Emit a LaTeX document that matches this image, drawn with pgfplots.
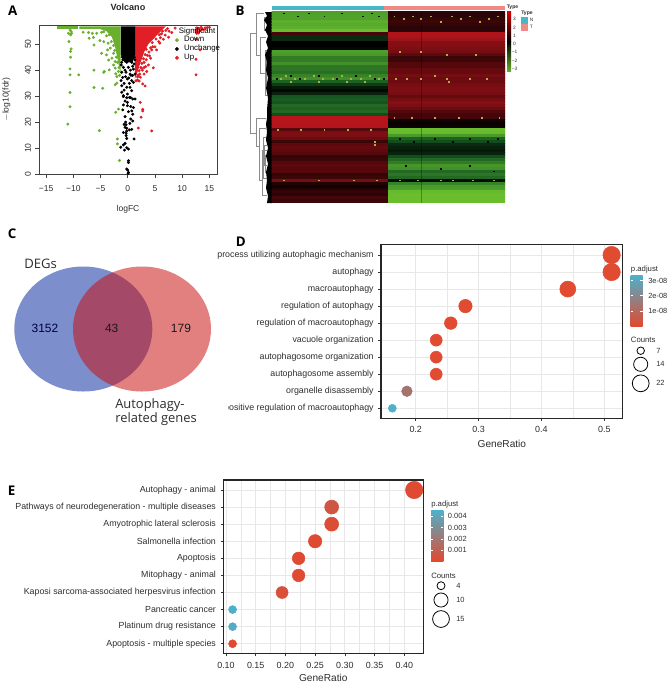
\documentclass[border=0pt]{standalone}
\usepackage{fontspec}
\setmainfont{Liberation Sans}
\newfontfamily\uifont{Open Sans}
\usepackage{pgfplots}
\pgfplotsset{compat=1.18}
\newcommand{\fs}[1]{\fontsize{#1}{#1}\selectfont}

\definecolor{vgreen}{RGB}{106,176,46}
\definecolor{vred}{RGB}{226,30,38}
\definecolor{txt}{RGB}{45,45,45}
\definecolor{grd}{RGB}{232,232,232}
\definecolor{dred}{RGB}{226,73,47}
\definecolor{dblue}{RGB}{76,177,204}

% shared look of the two dot plots
\pgfplotsset{
  dotplot/.style={
    scale only axis, anchor=north west,
    axis line style={line width=0.8pt, color=black!85},
    y dir=reverse, ytick={1,...,10},
    tick align=outside, major tick length=2pt, minor tick length=0pt,
    tick style={color=black!80, line width=0.4pt},
    xtick pos=bottom, ytick pos=left,
    grid=both, major grid style={grd, line width=0.7pt}, minor grid style={grd, line width=0.4pt},
    minor x tick num=1,
    tick label style={font=\fs{6.63}, color=txt},
    xticklabel style={font=\fs{6.7}, color=txt, yshift=-0.5pt},
    colormap={padj}{rgb255(0)=(226,73,47) rgb255(1)=(76,177,204)},
    /pgf/number format/assume math mode=true,
  },
  dots/.style={
    scatter, only marks, mark=*, point meta=explicit,
    scatter/use mapped color={draw=mapped color, fill=mapped color},
    visualization depends on={\thisrow{r}*0.75 \as \rad},
    scatter/@pre marker code/.append style={/tikz/mark size=\rad},
  },
}

\begin{document}
\begin{tikzpicture}[x=0.75pt, y=-0.75pt]
\useasboundingbox (0,0) rectangle (669,684);

% canvas axis in pixels of the figure: dendrogram, venn, legend keys
\begin{axis}[
    at={(0pt,0pt)}, anchor=north west, scale only axis, width=501.75pt, height=513pt,
    xmin=0, xmax=669, ymin=0, ymax=684, y dir=reverse, hide axis, clip=false,
    unbounded coords=jump,
]
  % venn
  \fill[color={rgb,255:red,74;green,98;blue,184}, opacity=0.72] (axis cs:83.3,329) ellipse [x radius=69, y radius=62.5];
  \fill[color={rgb,255:red,200;green,15;blue,15}, opacity=0.53] (axis cs:142,329) ellipse [x radius=69, y radius=62.5];

  % dendrogram of the heatmap
  \addplot[color=black!45, line width=0.35pt] coordinates {
    (256.7,33) (250.7,33) (250.7,133) (256,133) (nan,nan)
    (264,13) (256.7,13) (256.7,55) (260,55) (nan,nan)
    (266,37) (260,37) (260,73) (265,73) (nan,nan)
    (268,50) (265,50) (265,95) (268,95) (nan,nan)
    (268,30) (264,30) (264,17) (268,17) (nan,nan)
    (266,118) (256,118) (256,146) (259,146) (nan,nan)
    (266,128) (259,128) (259,180) (262,180) (nan,nan)
    (267,150) (262,150) (262,195) (267,195) (nan,nan)
    (267,137) (263,137) (263,178) (267,178) (nan,nan)
    (267,145) (264,145) (264,165) (267,165) (nan,nan)
    (268,60) (266,60) (266,85) (268,85) (nan,nan)
    (268,155) (265,155) (265,172) (268,172)
  };
  % leaves of the dendrogram, too dense to tell apart
  \addplot[fill=black, draw=none] coordinates {
    (272,12) (265,12) (267,16) (264,20) (267,25) (265,30) (268,36) (266,42) (268,48)
    (265,55) (267,62) (266,70) (268,78) (266,88) (268,98) (267,110) (267,118) (266,124)
    (267,132) (266,140) (268,148) (266,156) (268,164) (266,172) (267,180) (266,188)
    (268,196) (267,203) (272,203)
  } -- cycle;

  % counts keys of panels D and E
  \addplot[only marks, mark=o, mark size=2.8pt, black, line width=0.6pt] coordinates {(640.7,350.7)};
  \addplot[only marks, mark=o, mark size=5.3pt, black, line width=0.6pt] coordinates {(640.7,364.3)};
  \addplot[only marks, mark=o, mark size=6.3pt, black, line width=0.6pt] coordinates {(640.7,383.3)};
  \addplot[only marks, mark=o, mark size=3pt, black, line width=0.6pt] coordinates {(441,585.7)};
  \addplot[only marks, mark=o, mark size=5.3pt, black, line width=0.6pt] coordinates {(441,600)};
  \addplot[only marks, mark=o, mark size=6.3pt, black, line width=0.6pt] coordinates {(441,619)};

  % colour bars
  \shade[top color=dblue, bottom color=dred] (axis cs:630.7,275) rectangle (axis cs:642.7,326);
  \shade[top color=dblue, bottom color=dred] (axis cs:431,510) rectangle (axis cs:443.3,561);
  \fill[color={rgb,255:red,70;green,184;blue,200}] (axis cs:271.7,5.7) rectangle (axis cs:384,10);
  \fill[color={rgb,255:red,240;green,138;blue,132}] (axis cs:384,5.7) rectangle (axis cs:505,10);
  \fill[color={rgb,255:red,70;green,184;blue,200}] (axis cs:520.7,16.7) rectangle (axis cs:527.7,24);
  \fill[color={rgb,255:red,240;green,138;blue,132}] (axis cs:520.7,24) rectangle (axis cs:527.7,30.7);
  \shade[top color=red!85!black, bottom color=black] (axis cs:507,11.7) rectangle (axis cs:511,41.7);
  \shade[top color=black, bottom color=vgreen] (axis cs:507,41.7) rectangle (axis cs:511,71.7);

  % white ticks on the colour bars
  \foreach \yy in {280.7,295.7,311} {
    \edef\tmp{\noexpand\draw[white, line width=0.4pt] (axis cs:630.7,\yy) -- (axis cs:633,\yy) (axis cs:640.4,\yy) -- (axis cs:642.7,\yy);}\tmp
  }
  \foreach \yy in {516,527.7,539,550.3} {
    \edef\tmp{\noexpand\draw[white, line width=0.4pt] (axis cs:431,\yy) -- (axis cs:433.3,\yy) (axis cs:441,\yy) -- (axis cs:443.3,\yy);}\tmp
  }
\end{axis}

% A: volcano
\begin{axis}[
    at={(29.25pt,-18.75pt)}, anchor=north west, scale only axis, width=133.5pt, height=111.75pt,
    xmin=-16.3, xmax=16.4, ymin=0, ymax=57.4,
    xtick={-15,-10,...,15}, xticklabels={−15,−10,−5,0,5,10,15},
    ytick={0,10,...,50}, yticklabels={0,10,20,30,40,50},
    tick align=outside, major tick length=3pt,
    xtick pos=bottom, ytick pos=left,
    axis line style={color=black!75, line width=0.4pt},
    tick style={color=black!75, line width=0.4pt},
    tick label style={font=\fs{6.4}, color=txt},
    xticklabel style={yshift=-2pt},
    yticklabel style={rotate=90, anchor=south, yshift=-0.5pt},
    xlabel={logFC}, ylabel={$-$log10(fdr)},
    xlabel style={font=\fs{6.4}, color=txt, yshift=-3.5pt},
    ylabel style={font=\fs{6.4}, color=txt, yshift=4pt},
    title={\bfseries Volcano}, title style={font=\fs{6.8}, color=black!85, yshift=1pt},
    /pgf/number format/assume math mode=true,
    legend cell align=left,
    legend style={at={(axis cs:6.9,57.2)}, anchor=north west, draw=none, fill=none,
      font=\fs{5.9}, row sep=-1.4pt, inner sep=0pt, nodes={inner sep=1.2pt}},
]
  % solid parts of the cloud
  \addplot[fill=vgreen, draw=none, forget plot] coordinates {(-13,56.9) (-9.2,56.9) (-9.2,55.9) (-13,55.9)} -- cycle;
  \addplot[fill=vgreen, draw=none, forget plot] coordinates {
    (-8.9,56.9) (-1.3,56.9) (-1.3,38.5) (-1.7,42.4) (-2.3,48.8) (-2.9,52.7) (-3.9,55) (-5.2,55.9) (-8.9,55.9)
  } -- cycle;
  \addplot[fill=vred, draw=none, forget plot] coordinates {
    (1.3,56.9) (7,56.9) (6.55,56) (5.3,53.3) (3.8,50.1) (3,46.9) (2.27,42.4) (1.66,38.5) (1.3,36.6)
  } -- cycle;
  \addplot[fill=black, draw=none, forget plot] coordinates {
    (-1.25,56.9) (1.35,56.9) (1.35,46) (0.9,43) (-0.6,43) (-1.25,46)
  } -- cycle;

  % scattered points
  \addplot[only marks, mark=*, mark size=0.9pt, vgreen, forget plot] coordinates {
    (-10.6,55.5) (-10.4,54.9) (-10.9,54.2) (-10.3,54.2) (-10.5,53.6) (-10.8,51) (-10.4,48.2)
    (-10.5,47.2) (-10.5,45) (-10.6,40.5) (-10.6,38.2) (-9,38.2) (-6.2,40) (-4.3,39.5) (-4.4,39.2)
    (-3.4,40.1) (-2.2,38.6) (-6.2,33.3) (-4.6,33) (-10.6,31.4) (-10.6,25.9) (-11,19.2) (-5.2,16.7)
    (-1.7,25) (-2.2,23.8) (-1.9,13.5) (-1.9,11.6) (-1.5,5.2) (-2,35) (-2.3,34.4)
    (-8.2,54.6) (-7.2,54.5) (-6.5,54.2) (-5.7,54.2) (-4.8,54.6) (-6.3,52.6) (-7.1,52.3) (-5.1,51.4)
    (-6.2,49.7) (-3.9,53.2) (-4.4,51) (-3.6,50.4) (-3.2,48.5) (-3.7,47.8) (-4.8,46.5) (-3.9,45.9)
    (-2.6,46.5) (-2.9,44.6) (-2.3,43.3) (-3.5,43.9) (-2.3,40.8) (-2.6,42) (-1.7,39.5) (-2,37.5)
    (-4.4,54.8) (-3.4,53.6) (-3,51) (-2.6,49.5) (-2.4,47.6) (-2.1,45) (-1.9,43) (-1.6,41) (-1.5,38)
  };
  \addplot[only marks, mark=*, mark size=0.9pt, vred, forget plot] coordinates {
    (8.7,56.2) (7,55.3) (8.1,54.5) (7.5,52.7) (6.55,51.9) (5.9,50.4) (5.3,47.8) (4.4,47.8) (4.7,40.9)
    (3.8,42) (3.5,39.5) (3.2,33.9) (2.75,34.7) (2.3,37.3) (1.8,36.2) (1.5,35.9) (2.3,27.6) (2.75,24.9)
    (2.75,24.3) (2.45,21.9) (1.95,17.7) (4.4,16.6) (12.55,38.2) (12.55,44.2) (13.3,47.8) (12.55,51.9)
    (12.7,54.2) (12.5,55.5) (12.8,55) (13,56) (13.3,55.2) (13.6,56) (13.9,55.5) (14.2,56.3) (14.6,56.4)
    (15,56.5) (12.6,54.5) (13,54.3) (13.5,56.5) (12.7,56.3) (4,45.5) (3.9,47) (3.4,44) (3,43) (2.7,40)
    (3,38.5) (2.2,38.5) (2.5,40.8) (2.1,35.8) (1.9,38) (3.6,45.7) (4.6,49) (5,49) (5.7,51) (6,52.5)
    (6.9,53.5) (6.2,54) (7.3,56) (7.6,55) (6.4,55) (5.8,53.6) (5.2,52) (4.5,50.6) (4.2,48.6) (3.4,48)
    (3.2,46) (2.9,44.4) (2.6,42.6) (2.4,41) (2.1,39.8) (1.8,37.4) (3.3,41.4) (3,41) (4.2,44.6)
  };
  \addplot[only marks, mark=*, mark size=0.9pt, black, forget plot] coordinates {
    (-.8,29.8) (-.18,29.4) (.55,29.4) (-.49,28.1) (-.06,27.6) (1.35,28.9) (-.8,26.6) (-.06,26.3)
    (.55,26) (1.05,25.6) (-.92,24.7) (.13,24) (.74,24.3) (.92,23) (-.49,22.1) (.55,21.2) (.92,20.4)
    (-.67,19.1) (-.49,18) (-.18,17.6) (.74,17.2) (-.8,16) (-.3,15.7) (-.3,14.8) (-.18,13.7) (1.17,13.5)
    (-.49,11.8) (-.8,11.2) (-1.28,10.3) (-.18,10.1) (.13,9.6) (-.6,9.2) (.13,5.1) (.13,4.4) (-.18,1.9)
    (0,1.5) (.13,.6) (.07,.2) (-.4,20) (-.3,19) (.4,19.5) (.3,17) (-.2,16.5)
    (-.18,43) (.73,43) (1.16,42.4) (-.8,41.1) (.12,41.1) (1.04,40.4) (-1.1,39.2) (-.31,39.2) (.43,38.5)
    (1.35,38.5) (-.92,37.2) (-.06,36.6) (.73,36) (-1.23,36) (-.67,34.9) (.31,34.9) (1.04,35.3) (-1.1,34)
    (-.18,33.4) (.43,33.4) (-.67,32.3) (.73,32.1) (-1.1,31.5) (-.06,30.8) (.31,29.5) (-.8,30.2) (.92,28.9)
    (-1,45) (-.9,44) (1.2,45) (1.3,44) (-1.1,43) (-1.2,42) (.9,41.5) (.5,40) (-.5,40) (.9,38) (-.4,37.5)
    (.2,37) (.6,38)
  };
  \addlegendimage{empty legend}
  \addlegendentry{\hspace{-0.9pt}Significant}
  \addlegendimage{only marks, mark=*, mark size=1.2pt, vgreen}
  \addlegendentry{\hspace{3pt}Down}
  \addlegendimage{only marks, mark=*, mark size=1.2pt, black}
  \addlegendentry{\hspace{3pt}Unchange}
  \addlegendimage{only marks, mark=*, mark size=1.2pt, vred}
  \addlegendentry{\hspace{3pt}Up}
\end{axis}

% B: heatmap, one row per line: column (0 = N, 1 = T), row, value
\begin{axis}[
    at={(203.775pt,-8.775pt)}, anchor=north west, scale only axis, width=175pt, height=143.25pt,
    xmin=-0.5, xmax=1.5, ymin=-0.5, ymax=63.5, y dir=reverse,
    hide axis,
    colormap={gbr}{rgb255(0)=(106,190,46) rgb255(1)=(70,150,42) rgb255(2)=(20,85,32) rgb255(3)=(0,0,0)
      rgb255(4)=(85,8,12) rgb255(5)=(165,20,26) rgb255(6)=(215,20,30)},
    point meta min=-3, point meta max=3,
]
  \addplot[matrix plot*, mesh/cols=2, point meta=explicit] table[row sep=\\, meta=c] {
    x y c \\
    0 0 -2.2 \\ 1 0 .5 \\ 0 1 -2.3 \\ 1 1 .5 \\ 0 2 -2.3 \\ 1 2 .6 \\ 0 3 -2.6 \\ 1 3 .7 \\
    0 4 -2.5 \\ 1 4 .6 \\ 0 5 -2.6 \\ 1 5 .5 \\ 0 6 -3 \\ 1 6 .5 \\ 0 7 .8 \\ 1 7 2.2 \\
    0 8 -.5 \\ 1 8 2.2 \\ 0 9 -.5 \\ 1 9 1.9 \\ 0 10 0 \\ 1 10 1.6 \\ 0 11 0 \\ 1 11 1.6 \\
    0 12 -.1 \\ 1 12 1.5 \\ 0 13 -2.2 \\ 1 13 1.4 \\ 0 14 -2.1 \\ 1 14 1.1 \\ 0 15 -1.6 \\ 1 15 .7 \\
    0 16 -1.6 \\ 1 16 .7 \\ 0 17 -1.9 \\ 1 17 1 \\ 0 18 -1.5 \\ 1 18 1 \\ 0 19 -1.5 \\ 1 19 1.2 \\
    0 20 -1.4 \\ 1 20 1.2 \\ 0 21 -1.7 \\ 1 21 1.4 \\ 0 22 -1.9 \\ 1 22 1.3 \\ 0 23 -1.2 \\ 1 23 1.3 \\
    0 24 -.7 \\ 1 24 1.4 \\ 0 25 -.3 \\ 1 25 1.5 \\ 0 26 -.1 \\ 1 26 1.5 \\ 0 27 -.4 \\ 1 27 1.4 \\
    0 28 -1 \\ 1 28 1.2 \\ 0 29 -1.1 \\ 1 29 1.4 \\ 0 30 -1 \\ 1 30 1.6 \\ 0 31 -1.3 \\ 1 31 1.5 \\
    0 32 -1.2 \\ 1 32 1.3 \\ 0 33 -1.3 \\ 1 33 1 \\ 0 34 -.9 \\ 1 34 .8 \\ 0 35 2.4 \\ 1 35 .8 \\
    0 36 2.4 \\ 1 36 .2 \\ 0 37 2.3 \\ 1 37 .1 \\ 0 38 2.3 \\ 1 38 .2 \\ 0 39 1 \\ 1 39 -3 \\
    0 40 1.5 \\ 1 40 -2.9 \\ 0 41 1.5 \\ 1 41 -2.1 \\ 0 42 1.3 \\ 1 42 -1.2 \\ 0 43 .7 \\ 1 43 -.9 \\
    0 44 1.1 \\ 1 44 -.5 \\ 0 45 1.2 \\ 1 45 -.4 \\ 0 46 1.1 \\ 1 46 -.3 \\ 0 47 1 \\ 1 47 -.4 \\
    0 48 .6 \\ 1 48 -.9 \\ 0 49 .7 \\ 1 49 -1.3 \\ 0 50 1 \\ 1 50 -1.6 \\ 0 51 1.1 \\ 1 51 -2 \\
    0 52 1 \\ 1 52 -1.9 \\ 0 53 1 \\ 1 53 -1.3 \\ 0 54 .6 \\ 1 54 -1.5 \\ 0 55 .7 \\ 1 55 -1.3 \\
    0 56 1.4 \\ 1 56 -.2 \\ 0 57 .4 \\ 1 57 -1.7 \\ 0 58 .2 \\ 1 58 -2.1 \\ 0 59 .4 \\ 1 59 -2.2 \\
    0 60 .6 \\ 1 60 -2.9 \\ 0 61 .5 \\ 1 61 -3 \\ 0 62 .8 \\ 1 62 -3 \\ 0 63 .7 \\ 1 63 -3 \\
  };
  % vertical streak through the tumour samples
  \addplot[black, line width=0.5pt, opacity=0.3] coordinates {(.78,-.5) (.78,63.5)};
  % cells that stand out of their row
  \addplot[only marks, mark=square*, mark size=0.3pt, color={rgb,255:red,175;green,175;blue,70}] coordinates {
    (-.42,22) (-.38,21) (-.3,22) (-.22,22) (-.14,21) (-.06,22) (.02,22) (.1,21) (.18,22) (.26,22) (.34,21) (.42,22)
    (-.34,23) (-.1,23) (.14,23) (.3,23)
    (.56,22) (.66,22) (.78,22) (.9,21) (1,22) (1.02,23) (1.2,22) (1.34,22)
    (.55,1) (.63,2) (.71,1) (.78,2) (.86,1) (.95,3) (1.04,1) (1.12,2) (1.2,1) (1.28,3) (1.36,2) (1.44,1)
    (.6,13) (.78,13) (1,14) (1.25,14)
    (-.45,39) (-.25,39) (-.05,39) (.15,39) (.35,39)
    (-.4,56) (-.1,56) (.2,56) (.4,56)
    (.55,35) (.7,35) (.9,35) (1.1,35) (1.3,35) (1.45,35)
    (.6,56) (.75,56) (.95,56) (1.05,56) (1.22,56) (1.4,56)
    (.38,43) (.38,44)
  };
  \addplot[only marks, mark=square*, mark size=0.3pt, black] coordinates {
    (-.4,0) (-.28,1) (-.18,0) (-.05,1) (.1,0) (.28,1) (.36,0) (.42,1)
    (-.46,22) (-.34,21) (-.26,22) (-.1,21) (.06,22) (.22,21) (.38,22) (.46,22)
    (.58,56) (.7,56) (.85,56) (1,56) (1.15,56) (1.3,56) (1.46,56)
    (.6,42) (.72,43) (.9,42) (1.05,43) (1.2,42) (1.35,43) (1.44,42)
    (.65,51) (.95,52) (1.2,51) (1.4,53)
  };
\end{axis}

% D: GO dot plot
\begin{axis}[
    dotplot,
    at={(285.75pt,-183.225pt)}, width=181.3pt, height=130.5pt,
    xmin=0.1448, xmax=0.5293, ymin=0.37, ymax=10.59,
    xtick={0.2,0.3,0.4,0.5}, xticklabels={0.2,0.3,0.4,0.5},
    yticklabels={process utilizing autophagic mechanism, autophagy, macroautophagy,
      regulation of autophagy, regulation of macroautophagy, vacuole organization,
      autophagosome organization, autophagosome assembly, organelle disassembly,
      positive regulation of macroautophagy},
    xlabel={GeneRatio},
    xlabel style={font=\fs{7.6}, color=txt, yshift=1.2pt},
    point meta min=0, point meta max=3.3,
]
  % p in units of 1e-8, r in pixels
  \addplot[dots] table[x=g, y=rank, meta=p] {
    g      rank p    r
    0.5116 1    0.05 8.7
    0.5116 2    0.05 8.7
    0.4419 3    0.05 8
    0.2791 4    0.05 6.7
    0.2558 5    0.05 6.3
    0.2326 6    0.05 6
    0.2326 7    0.05 6
    0.2326 8    0.05 6
    0.1860 9    1.3  5.3
    0.1628 10   3.3  4
  };
\end{axis}

% E: KEGG dot plot
\begin{axis}[
    dotplot,
    at={(167.475pt,-360pt)}, width=150pt, height=130.3pt,
    xmin=0.0955, xmax=0.432, ymin=0.415, ymax=10.585,
    xtick={0.10,0.15,...,0.40}, xticklabels={0.10,0.15,0.20,0.25,0.30,0.35,0.40},
    yticklabels={Autophagy - animal, Pathways of neurodegeneration - multiple diseases,
      Amyotrophic lateral sclerosis, Salmonella infection, Apoptosis, Mitophagy - animal,
      Kaposi sarcoma-associated herpesvirus infection, Pancreatic cancer,
      Platinum drug resistance, Apoptosis - multiple species},
    xlabel={GeneRatio},
    xlabel style={font=\fs{7.6}, color=txt, yshift=2.2pt},
    point meta min=0, point meta max=4.6,
]
  % p in units of 0.001, r in pixels
  \addplot[dots] table[x=g, y=rank, meta=p] {
    g      rank p    r
    0.4167 1    0.1  8.7
    0.2778 2    0.6  7
    0.2778 3    0.2  7
    0.2500 4    0.1  6.7
    0.2222 5    0.1  6.3
    0.2222 6    0.1  6.3
    0.1944 7    0.3  6
    0.1111 8    4.5  4
    0.1111 9    4.3  4
    0.1111 10   0.1  4
  };
\end{axis}

% the first label of the last row is cut off at the left in the figure
\fill[white] (218,402) rectangle (228.3,414);

% text outside the axes
\begin{scope}[every node/.style={inner sep=0pt, color=txt}]
  \node[font=\uifont\bfseries\fs{10}, color=black, anchor=center] at (12.7,11) {A};
  \node[font=\uifont\bfseries\fs{10}, color=black, anchor=center] at (240,10.5) {B};
  \node[font=\uifont\bfseries\fs{10}, color=black, anchor=center] at (12,234) {C};
  \node[font=\uifont\bfseries\fs{10}, color=black, anchor=center] at (240.7,241.7) {D};
  \node[font=\uifont\bfseries\fs{10}, color=black, anchor=center] at (11.7,490.7) {E};

  \node[font=\uifont\fs{9.8}, anchor=west] at (24,264) {DEGs};
  \node[font=\uifont\fs{9.7}, anchor=west] at (115,405) {Autophagy-};
  \node[font=\uifont\fs{9.7}, anchor=west] at (115,419.5) {related genes};
  \node[font=\fs{9}, color=black!75!blue] at (45,328) {3152};
  \node[font=\fs{9}, color=black!90] at (111.7,328) {43};
  \node[font=\fs{9}, color=black!90] at (181,328) {179};

  \node[font=\fs{5.8}, anchor=west] at (630.7,269.3) {p.adjust};
  \node[font=\fs{5.8}, anchor=west] at (630.7,340.3) {Counts};
  \foreach \t/\yy in {3e-08/280.7,2e-08/295.7,1e-08/311}
    \node[font=\fs{5.6}, anchor=west] at (648,\yy) {\t};
  \foreach \t/\yy in {7/350.7,14/364.3,22/383.3}
    \node[font=\fs{5.6}, anchor=west] at (656,\yy) {\t};

  \node[font=\fs{5.8}, anchor=west] at (431,504.3) {p.adjust};
  \node[font=\fs{5.8}, anchor=west] at (431,575.7) {Counts};
  \foreach \t/\yy in {0.004/516,0.003/527.7,0.002/539,0.001/550.3}
    \node[font=\fs{5.6}, anchor=west] at (447.7,\yy) {\t};
  \foreach \t/\yy in {4/585.7,10/600,15/619}
    \node[font=\fs{5.6}, anchor=west] at (456,\yy) {\t};

  \node[font=\bfseries\fs{3.8}, anchor=west] at (506.5,7.3) {Type};
  \node[font=\bfseries\fs{3.8}, anchor=west] at (521,13.5) {Type};
  \node[font=\fs{3.6}, anchor=west] at (529.5,20.3) {N};
  \node[font=\fs{3.6}, anchor=west] at (529.5,27.3) {T};
  \foreach \t/\yy in {3/19.3,2/27.7,1/36,0/44,−1/52.3,−2/61,−3/69}
    \node[font=\fs{3.6}, anchor=center] at (514.5,\yy) {\t};
\end{scope}
\end{tikzpicture}
\end{document}
